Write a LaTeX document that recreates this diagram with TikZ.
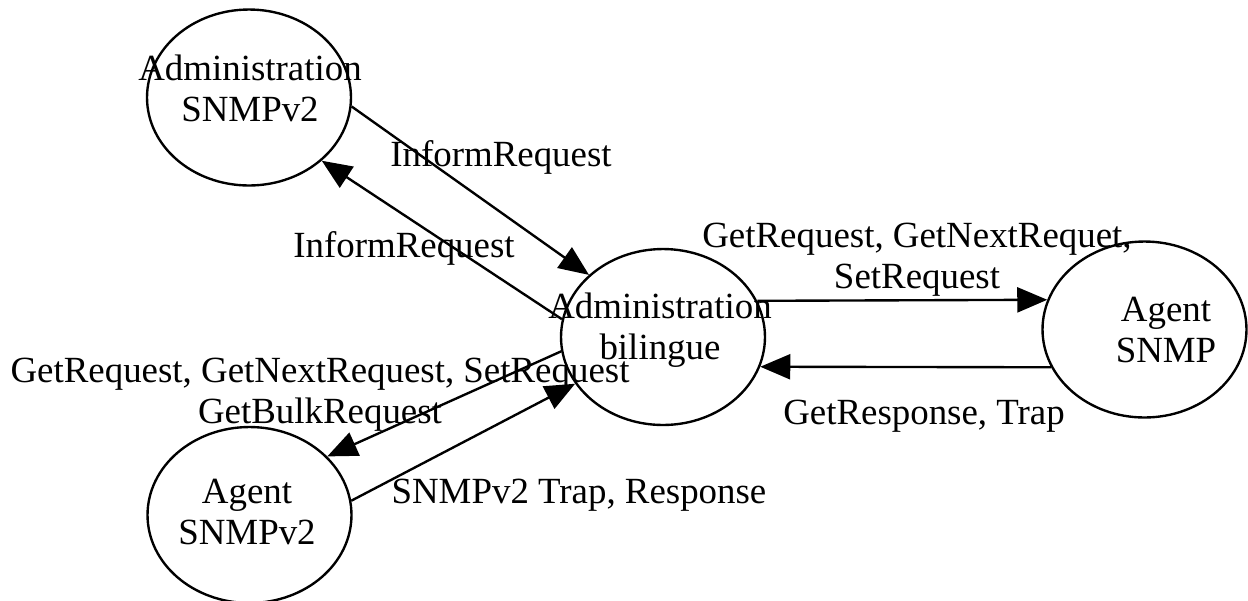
\documentclass[tikz,border=0pt]{standalone}
\usepackage{fontspec}
\setmainfont{Liberation Serif}
\usetikzlibrary{arrows.meta,shapes.geometric}
\begin{document}
\begin{tikzpicture}[x=0.02cm,y=-0.02cm,
  ovalnode/.style={draw, ellipse, line width=1.35pt, minimum width=4.08cm,
                   minimum height=3.52cm, inner sep=0pt},
  txt/.style={inner sep=0pt, anchor=base, align=center,
              font=\fontsize{21}{22.8}\selectfont},
  link/.style={line width=1.35pt, -{Triangle[length=0.6cm,width=0.5cm]}}]
\useasboundingbox (0,0) rectangle (1248,600);

% stations
\node[ovalnode] (A) at (249,97.5) {};
\node[ovalnode] (B) at (663,337) {};
\node[ovalnode] (C) at (1144.5,329.5) {};
\node[ovalnode] (D) at (249.5,515) {};

% station names (anchored on the baseline of the last line)
\node[txt] (At) at (250,121) {Administration\\SNMPv2};
\node[txt] (Bt) at (660,359) {Administration\\bilingue};
\node[txt] (Ct) at (1166,362) {Agent\\SNMP};
\node[txt] (Dt) at (247,544) {Agent\\SNMPv2};

% message labels
\node[txt] (l1) at (501,166) {InformRequest};
\node[txt] (l2) at (404,257) {InformRequest};
\node[txt] (l3) at (917,288) {GetRequest, GetNextRequet,\\SetRequest};
\node[txt] (l4) at (924,424) {GetResponse, Trap};
\node[txt] (l5) at (320,423) {GetRequest, GetNextRequest, SetRequest\\GetBulkRequest};
\node[txt] (l6) at (579,503) {SNMPv2 Trap, Response};

% message flows
\draw[link] (A.-5.4) -- (B.140.3);
\draw[link] (B.170.4) -- (A.-41.7);
\draw[link] (B.21.9) -- (C.163);
\draw[link] (C.202.3) -- (B.-17.2);
\draw[link] (B.188.8) -- (D.37.6);
\draw[link] (D.8.3) -- (B.208.1);
\end{tikzpicture}
\end{document}
